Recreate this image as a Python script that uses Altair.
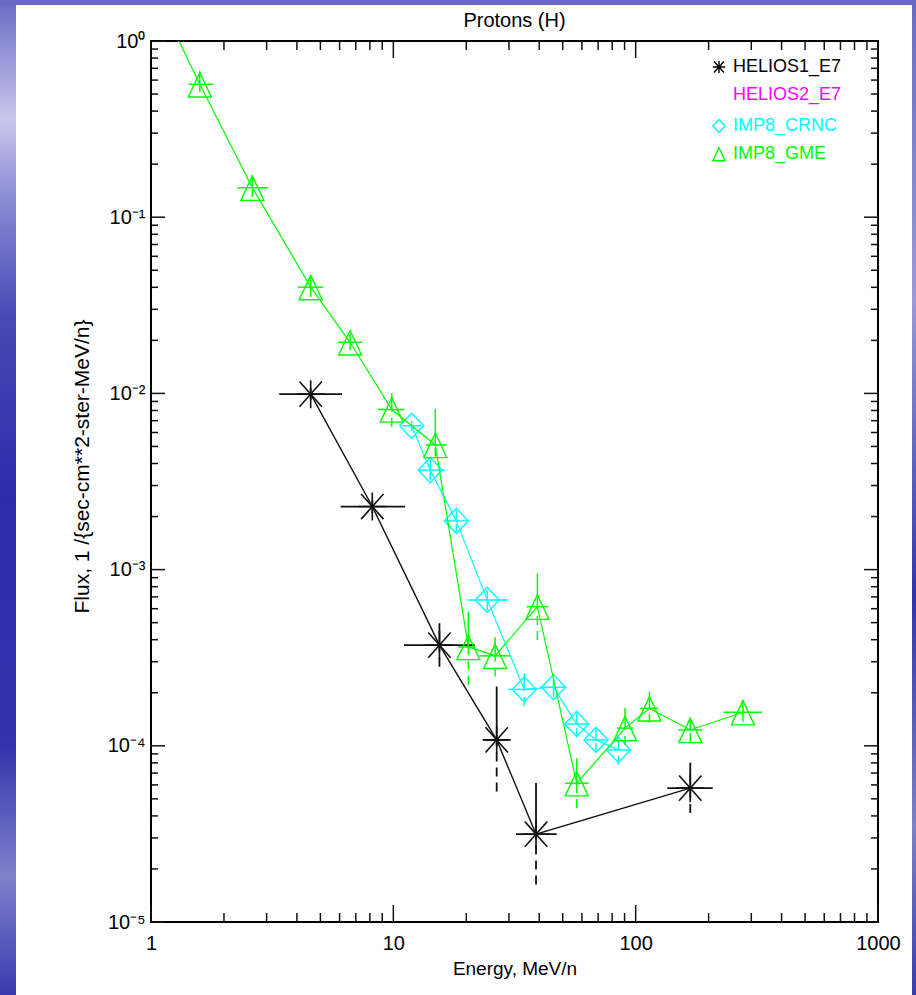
import altair as alt
import pandas as pd

# ---------------- data ----------------
# IMP8_GME (green triangles); first point lies beyond the top of the frame
gme_e   = [1.2, 1.59, 2.62, 4.56, 6.63, 9.85, 14.9, 20.4, 26.3, 39.3, 57.1, 90.4, 114, 168, 277]
gme_f   = [1.27, 0.568, 0.147, 0.0401, 0.0195, 0.0081, 0.0051, 3.64e-4, 3.24e-4, 6.16e-4, 6.13e-5, 1.26e-4, 1.63e-4, 1.23e-4, 1.55e-4]
gme_elo = [1.2, 1.43, 2.27, 4.04, 5.91, 8.62, 13.6, 18.5, 22.8, 35.5, 51.1, 83.6, 104, 150, 230]
gme_ehi = [1.2, 1.81, 3.03, 5.13, 7.43, 11.1, 16.6, 21.7, 30.3, 43.6, 63.8, 97.8, 124, 188, 332]
gme_flo = [1.27, 0.514, 0.130, 0.0352, 0.0176, 0.00647, 0.00437, 2.22e-4, 2.47e-4, 3.99e-4, 4.44e-5, 1.01e-4, 1.35e-4, 1.05e-4, 1.37e-4]
gme_fhi = [1.27, 0.673, 0.173, 0.0469, 0.0217, 0.01004, 0.00815, 5.77e-4, 4.13e-4, 9.53e-4, 8.5e-5, 1.64e-4, 2.03e-4, 1.44e-4, 1.82e-4]

# IMP8_CRNC (cyan diamonds)
crnc_e   = [11.9, 14.2, 18.2, 24.4, 34.7, 45.8, 57.1, 68.6, 84.9]
crnc_f   = [0.00655, 0.00367, 0.00189, 6.73e-4, 2.09e-4, 2.15e-4, 1.33e-4, 1.08e-4, 9.48e-5]
crnc_elo = [10.9, 12.7, 16.4, 20.2, 29.8, 40.3, 51.1, 62.4, 76.9]
crnc_ehi = [13.0, 16.4, 20.3, 29.8, 39.1, 51.6, 63.8, 75.5, 94.8]
crnc_flo = [0.00614, 0.00322, 0.00161, 5.9e-4, 1.68e-4, 1.89e-4, 1.12e-4, 9.23e-5, 7.8e-5]
crnc_fhi = [0.0070, 0.00419, 0.00218, 7.66e-4, 2.58e-4, 2.4e-4, 1.54e-4, 1.26e-4, 1.08e-4]

# HELIOS1_E7 (black asterisks)
h1_e   = [4.56, 8.19, 15.5, 26.7, 38.8, 168]
h1_f   = [0.0099, 0.00228, 3.73e-4, 1.08e-4, 3.15e-5, 5.75e-5]
h1_elo = [3.38, 6.06, 11.07, 23.9, 32.1, 135]
h1_ehi = [6.14, 11.18, 21.7, 29.7, 47.2, 208]
h1_flo = [0.0092, 0.0021, 2.81e-4, 5.5e-5, 1.63e-5, 4.15e-5]
h1_fhi = [0.0107, 0.00247, 4.96e-4, 2.17e-4, 6.14e-5, 8.03e-5]

legend_labels = ["HELIOS1_E7", "HELIOS2_E7", "IMP8_CRNC", "IMP8_GME"]
legend_colors = ["#000000", "#ff00ff", "#00ffff", "#00ff00"]

chart_title = "Protons (H)"

x_major = [1, 10, 100, 1000]
x_minor = [k * 10 ** d for d in range(0, 3) for k in range(2, 10)]
y_major = [1e-5, 1e-4, 1e-3, 1e-2, 1e-1, 1]
y_minor = [k * 10.0 ** d for d in range(-5, 0) for k in range(2, 10)]

# ---------------- styling ----------------
W, H = 727, 881
FONT = "Liberation Sans"
AX = "#111111"

ASTERISK = "M0,-1L0,1M-0.8,-0.9L0.8,0.9M-0.8,0.9L0.8,-0.9M-1,0L1,0"
TRIANGLE = "M0,-1.02L1,1.1L-1,1.1Z"
DIAMOND = "M0,-1.05L1,0L0,1.05L-1,0Z"

xs = alt.Scale(type="log", domain=[1, 1000], nice=False)
ys = alt.Scale(type="log", domain=[1e-5, 1], nice=False)

x_axis = alt.Axis(values=x_major, format="d", labelFontSize=20, labelFont=FONT,
                  labelColor="black", labelPadding=11, ticks=False, domain=False,
                  grid=False, labelFlush=False, labelOverlap=False,
                  title="Energy, MeV/n", titleFont=FONT, titleFontSize=19,
                  titleFontWeight="normal", titleColor="black", titlePadding=6)
y_axis = alt.Axis(values=y_major,
                  labelExpr="'10' + ['\u2070','\u207b\u00b9','\u207b\u00b2','\u207b\u00b3','\u207b\u2074','\u207b\u2075'][round(-log(datum.value)/LN10)]",
                  labelFontSize=20, labelFont=FONT, labelColor="black", labelPadding=6,
                  ticks=False, domain=False, grid=False, labelOverlap=False,
                  title="Flux, 1 /{sec-cm**2-ster-MeV/n}", titleFont=FONT,
                  titleFontSize=21, titleFontWeight="normal", titleColor="black",
                  titlePadding=15, titleY=425)


def X(f):
    return alt.X(f, type="quantitative", scale=xs, axis=x_axis)


def Y(f):
    return alt.Y(f, type="quantitative", scale=ys, axis=y_axis)


layers = []

# slide background strips (outside the white sheet)
one = pd.DataFrame({"a": [0]})
left_grad = alt.Gradient(
    gradient="linear", x1=0, x2=0, y1=0, y2=1,
    stops=[alt.GradientStop(color="#6a6ac6", offset=0.0),
           alt.GradientStop(color="#c8c8ec", offset=0.12),
           alt.GradientStop(color="#8a8ad4", offset=0.2),
           alt.GradientStop(color="#4848b6", offset=0.32),
           alt.GradientStop(color="#2c2caa", offset=0.5),
           alt.GradientStop(color="#3434ac", offset=0.75),
           alt.GradientStop(color="#8080cc", offset=0.88),
           alt.GradientStop(color="#3a3ab0", offset=1.0)])
right_grad = alt.Gradient(
    gradient="linear", x1=0, x2=0, y1=0, y2=1,
    stops=[alt.GradientStop(color="#6a6ac6", offset=0.0),
           alt.GradientStop(color="#9a9ad8", offset=0.3),
           alt.GradientStop(color="#3232b0", offset=0.6),
           alt.GradientStop(color="#8080c8", offset=0.83),
           alt.GradientStop(color="#3a3ab0", offset=1.0)])
layers.append(alt.Chart(one).mark_rect(fill=left_grad).encode(
    x=alt.value(-151), x2=alt.value(-135), y=alt.value(-41), y2=alt.value(954)))
layers.append(alt.Chart(one).mark_rect(fill=right_grad).encode(
    x=alt.value(761), x2=alt.value(765), y=alt.value(-41), y2=alt.value(954)))
layers.append(alt.Chart(one).mark_rect(color="#6a6ac6").encode(
    x=alt.value(-151), x2=alt.value(765), y=alt.value(-41), y2=alt.value(-36)))

# chart title as a text mark above the frame
layers.append(alt.Chart(pd.DataFrame({"t": [chart_title]})).mark_text(
    align="center", baseline="middle", font=FONT, fontSize=20, color="black").encode(
    x=alt.value(W / 2), y=alt.value(-20), text="t:N"))

# inward ticks on all four sides
xmaj = pd.DataFrame({"v": x_major})
xmin = pd.DataFrame({"v": x_minor})
ymaj = pd.DataFrame({"v": y_major})
ymin = pd.DataFrame({"v": y_minor})

tick = dict(color=AX, strokeWidth=1.5)
layers.append(alt.Chart(xmaj).mark_rule(**tick).encode(
    x=X("v"), y=alt.value(H), y2=alt.value(H - 17)))
layers.append(alt.Chart(xmaj).mark_rule(**tick).encode(
    x=X("v"), y=alt.value(0), y2=alt.value(17)))
layers.append(alt.Chart(xmin).mark_rule(**tick).encode(
    x=X("v"), y=alt.value(H), y2=alt.value(H - 9)))
layers.append(alt.Chart(xmin).mark_rule(**tick).encode(
    x=X("v"), y=alt.value(0), y2=alt.value(9)))
layers.append(alt.Chart(ymaj).mark_rule(**tick).encode(
    y=Y("v"), x=alt.value(0), x2=alt.value(14)))
layers.append(alt.Chart(ymaj).mark_rule(**tick).encode(
    y=Y("v"), x=alt.value(W), x2=alt.value(W - 14)))
layers.append(alt.Chart(ymin).mark_rule(**tick).encode(
    y=Y("v"), x=alt.value(0), x2=alt.value(7)))
layers.append(alt.Chart(ymin).mark_rule(**tick).encode(
    y=Y("v"), x=alt.value(W), x2=alt.value(W - 7)))


def series(e, f, elo, ehi, flo, fhi, color, shape, size, sw, lw, mw):
    df = pd.DataFrame(dict(e=e, f=f, elo=elo, ehi=ehi, flo=flo, fhi=fhi))
    b = alt.Chart(df)
    return [
        b.mark_line(color=color, strokeWidth=lw, clip=True).encode(
            x=X("e"), y=Y("f"), order="e:Q"),
        b.mark_rule(color=color, strokeWidth=sw, clip=True).encode(
            x=X("elo"), x2="ehi:Q", y=Y("f")),
        b.mark_rule(color=color, strokeWidth=sw, clip=True).encode(
            x=X("e"), y=Y("f"), y2="fhi:Q"),
        b.mark_rule(color=color, strokeWidth=sw, strokeDash=[9, 6], clip=True).encode(
            x=X("e"), y=Y("flo"), y2="f:Q"),
        b.mark_point(shape=shape, size=size, filled=False, stroke=color,
                     strokeWidth=mw, opacity=1, clip=True).encode(x=X("e"), y=Y("f")),
    ]


layers += series(h1_e, h1_f, h1_elo, h1_ehi, h1_flo, h1_fhi,
                 "#111111", ASTERISK, 784, 1.8, 1.4, 1.6)
layers += series(crnc_e, crnc_f, crnc_elo, crnc_ehi, crnc_flo, crnc_fhi,
                 "#00ffff", DIAMOND, 576, 1.5, 1.2, 1.4)
layers += series(gme_e, gme_f, gme_elo, gme_ehi, gme_flo, gme_fhi,
                 "#00ff00", TRIANGLE, 529, 1.5, 1.2, 1.4)

# legend (top right, inside frame)
legend_shapes = [ASTERISK, None, DIAMOND, TRIANGLE]
legend_y = [26, 54, 85, 113]
for lab, col, shp, yy in zip(legend_labels, legend_colors, legend_shapes, legend_y):
    d = pd.DataFrame({"t": [lab]})
    layers.append(alt.Chart(d).mark_text(align="left", baseline="middle", font=FONT,
                                         fontSize=18, color=col).encode(
        x=alt.value(582), y=alt.value(yy), text="t:N"))
    if shp is not None:
        layers.append(alt.Chart(d).mark_point(shape=shp, size=150, filled=False,
                                              stroke=col, strokeWidth=1.4, opacity=1).encode(
            x=alt.value(568), y=alt.value(yy)))

chart = alt.layer(*layers).properties(
    width=W, height=H,
    padding={"left": 151, "top": 41, "right": 38, "bottom": 73},
    autosize=alt.AutoSizeParams(type="none"),
).configure(background="white").configure_view(stroke="black", strokeWidth=2)

chart.save("out.html", embed_options={"renderer": "svg", "actions": False})
